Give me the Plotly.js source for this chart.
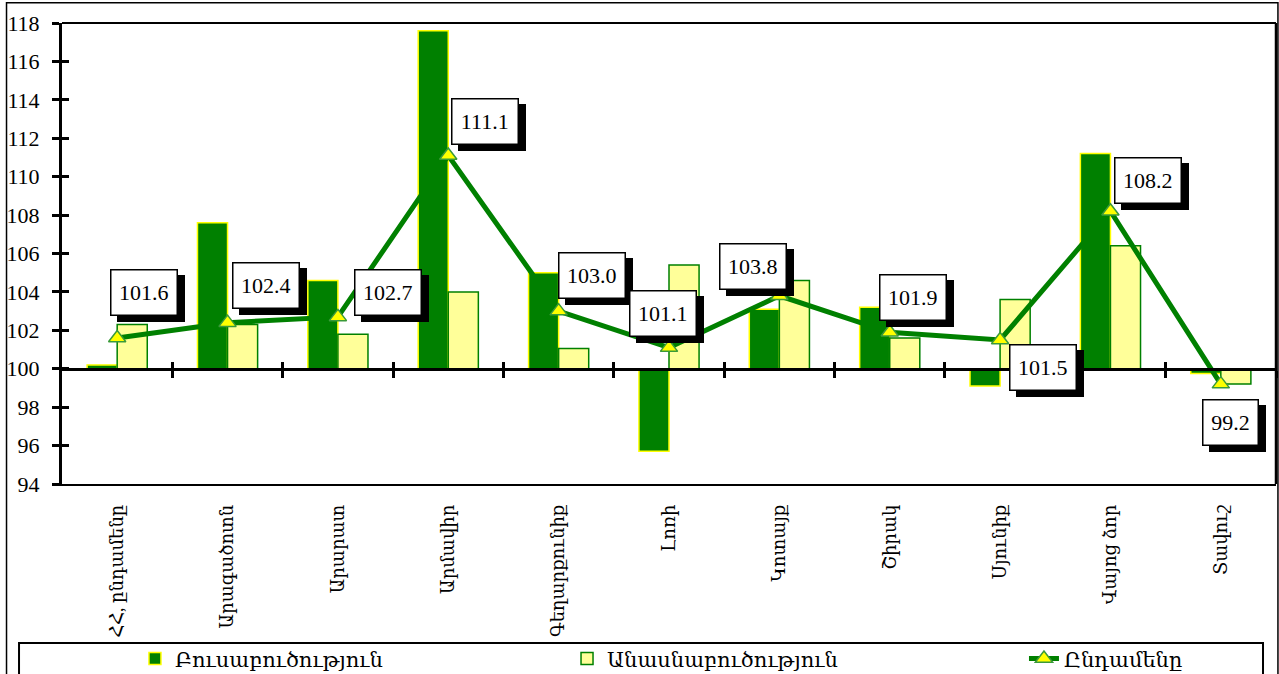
<!DOCTYPE html>
<html>
<head>
<meta charset="utf-8">
<script src="https://cdn.plot.ly/plotly-3.0.1.min.js"></script>
<style>
  html, body { margin: 0; padding: 0; background: #fff; }
  #chart { width: 1279px; height: 674px; }
</style>
</head>
<body>
<div id="chart"></div>
<script>
// ---- data ----
const categories = ["ՀՀ, ընդամենը", "Արագածոտն", "Արարատ", "Արմավիր", "Գեղարքունիք", "Լոռի", "Կոտայք", "Շիրակ", "Սյունիք", "Վայոց ձոր", "Տավուշ"];
const cropValues = [100.2, 107.6, 104.6, 117.6, 105.0, 95.7, 103.1, 103.2, 99.1, 111.2, 99.75];
const livestockValues = [102.3, 102.3, 101.8, 104.0, 101.05, 105.4, 104.6, 101.6, 103.6, 106.4, 99.2];
const totalValues = [101.6, 102.4, 102.7, 111.1, 103.0, 101.1, 103.8, 101.9, 101.5, 108.2, 99.2];
const seriesNames = ["Բուսաբուծություն", "Անասնաբուծություն", "Ընդամենը"];
const yTickValues = [94, 96, 98, 100, 102, 104, 106, 108, 110, 112, 114, 116, 118];
const baseLevel = 100;

// ---- styling (label offsets in pixels from the point) ----
const labelDX = [27, 38, 50, 37, 33, -6, -26, 23, 43, 38, 10];
const labelDY = [46, 37, 24, 34, 36, 34, 29, 35, -28, 31, -38];

const FONT = "Liberation Serif, DejaVu Serif, serif";
const GREEN = "#008000";

const traces = [
  {
    type: "bar", name: seriesNames[0], x: categories, legend: "legend",
    y: cropValues.map(v => v - baseLevel), base: baseLevel,
    marker: { color: GREEN, line: { color: "#ffff00", width: 1.5 } },
    hoverinfo: "skip"
  },
  {
    type: "bar", name: seriesNames[1], x: categories, legend: "legend2",
    y: livestockValues.map(v => v - baseLevel), base: baseLevel,
    marker: { color: "#ffff99", line: { color: GREEN, width: 1.5 } },
    hoverinfo: "skip"
  },
  {
    type: "scatter", mode: "lines+markers", name: seriesNames[2], x: categories, y: totalValues, legend: "legend3",
    line: { color: GREEN, width: 5 },
    marker: { symbol: "triangle-up", size: 15, color: "#ffff00", line: { color: "#3a9a3a", width: 1.5 } },
    hoverinfo: "skip"
  }
];

const annotations = [];
totalValues.forEach((v, i) => {
  const label = v.toFixed(1);
  const boxW = label.length * 10.5;
  const common = {
    x: categories[i], y: v, xref: "x", yref: "y", showarrow: false,
    borderwidth: 1.5, borderpad: 6, height: 32, width: boxW,
    font: { family: FONT, size: 22, color: "#000" }
  };
  // drop shadow box
  annotations.push(Object.assign({}, common, {
    text: " ", bgcolor: "#000", bordercolor: "#000",
    xshift: labelDX[i] + 7, yshift: labelDY[i] - 6
  }));
  // label box
  annotations.push(Object.assign({}, common, {
    text: label, bgcolor: "#fff", bordercolor: "#000",
    xshift: labelDX[i], yshift: labelDY[i]
  }));
});

const boundaries = categories.map((_, i) => i + 0.5);
const axisPos = (baseLevel - yTickValues[0]) / (yTickValues[yTickValues.length - 1] - yTickValues[0]);
const catRange = [-0.5, categories.length - 0.5];

function legendAt(xp) {
  return {
    orientation: "h", x: xp, xanchor: "left", y: -0.335, yanchor: "top",
    font: { family: FONT, size: 21, color: "#000" }, bgcolor: "rgba(0,0,0,0)"
  };
}

const layout = {
  width: 1279, height: 674,
  margin: { l: 62, r: 3, t: 23, b: 190, autoexpand: false },
  paper_bgcolor: "#fff", plot_bgcolor: "#fff",
  font: { family: FONT, color: "#000" },
  barmode: "group", bargap: 0.455, bargroupgap: 0,
  showlegend: true,
  legend: legendAt(0.0601),
  legend2: legendAt(0.416),
  legend3: legendAt(0.7924),
  xaxis: {
    type: "category", range: catRange, showline: true, linecolor: "#000", linewidth: 1.5,
    ticks: "", tickangle: -90, ticklabelstandoff: 12, automargin: false,
    tickfont: { family: FONT, size: 18, color: "#000" },
    showgrid: false, zeroline: false, fixedrange: true
  },
  xaxis2: {
    overlaying: "x", anchor: "free", position: axisPos, type: "linear",
    range: catRange, tickvals: boundaries,
    showticklabels: false, ticks: "outside", ticklen: 7, tickwidth: 3, tickcolor: "#000",
    showline: true, linecolor: "#000", linewidth: 3, showgrid: false, zeroline: false
  },
  xaxis3: {
    overlaying: "x", anchor: "free", position: axisPos, type: "linear",
    range: catRange, tickvals: boundaries,
    showticklabels: false, ticks: "inside", ticklen: 7, tickwidth: 3, tickcolor: "#000",
    showline: false, showgrid: false, zeroline: false
  },
  yaxis: {
    range: [94, 118], tickvals: yTickValues, ticktext: yTickValues.map(String),
    showline: true, linecolor: "#000", linewidth: 3, automargin: false,
    ticks: "outside", ticklen: 7, tickwidth: 3, tickcolor: "#000", ticklabelstandoff: 8,
    tickfont: { family: FONT, size: 22, color: "#000" },
    showgrid: false, zeroline: false, fixedrange: true
  },
  yaxis2: {
    overlaying: "y", anchor: "x", side: "left", range: [94, 118], tickvals: yTickValues,
    showticklabels: false, ticks: "inside", ticklen: 7, tickwidth: 3, tickcolor: "#000",
    showline: false, showgrid: false, zeroline: false
  },
  shapes: [
    // plot area top and right border
    { type: "line", xref: "paper", yref: "paper", x0: 0, x1: 1, y0: 1, y1: 1, line: { color: "#000", width: 2 } },
    { type: "line", xref: "paper", yref: "paper", x0: 1, x1: 1, y0: 0, y1: 1, line: { color: "#000", width: 2.5 } },
    // outer figure border
    { type: "rect", xref: "paper", yref: "paper", x0: -0.0457, x1: 1.0016, y0: -0.45, y1: 1.044, line: { color: "#000", width: 1.5 } },
    // legend box
    { type: "rect", xref: "paper", yref: "paper", x0: -0.0354, x1: 0.9893, y0: -0.45, y1: -0.3449, line: { color: "#000", width: 2 } }
  ],
  annotations: annotations
};

// invisible helper traces to activate the overlay axes
traces.push({ type: "scatter", x: [0], y: [100], xaxis: "x2", yaxis: "y", mode: "markers", marker: { opacity: 0 }, showlegend: false, hoverinfo: "skip" });
traces.push({ type: "scatter", x: [0], y: [100], xaxis: "x3", yaxis: "y", mode: "markers", marker: { opacity: 0 }, showlegend: false, hoverinfo: "skip" });
traces.push({ type: "scatter", x: [categories[0]], y: [100], xaxis: "x", yaxis: "y2", mode: "markers", marker: { opacity: 0 }, showlegend: false, hoverinfo: "skip" });

Plotly.newPlot("chart", traces, layout, { displayModeBar: false, staticPlot: true });
</script>
</body>
</html>
